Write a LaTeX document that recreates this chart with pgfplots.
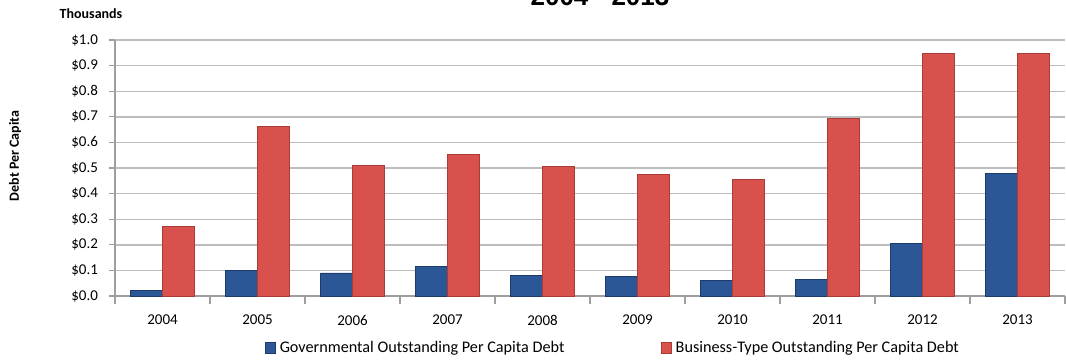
\documentclass[border=0pt]{standalone}
\usepackage{pgfplots}
\pgfplotsset{compat=1.18}
\usepackage{fontspec}
\setmainfont{Carlito}
\newfontfamily\titlefont{Liberation Sans}
\definecolor{blueM}{HTML}{2C5796}
\definecolor{blueE}{HTML}{1C3B6C}
\definecolor{redM}{HTML}{D9514D}
\definecolor{redE}{HTML}{A93C39}
\definecolor{gridc}{HTML}{BDBDBD}
\definecolor{axisc}{HTML}{9E9E9E}
\pgfplotstableread{
x gov bus
0 0.020 0.270
1 0.100 0.662
2 0.090 0.510
3 0.117 0.552
4 0.082 0.505
5 0.075 0.476
6 0.060 0.456
7 0.066 0.692
8 0.207 0.948
9 0.478 0.948
}\debt
\begin{document}
\begin{tikzpicture}
\useasboundingbox (0,0) rectangle (533pt,180pt);
\begin{axis}[
  scale only axis, width=475pt, height=128pt,
  at={(57.5pt,32pt)}, anchor=south west,
  ybar=0pt, bar width=16pt,
  xmin=-0.5, xmax=9.5, ymin=0, ymax=1.0,
  xtick=data,
  xticklabels={2004,2005,2006,2007,2008,2009,2010,2011,2012,2013},
  minor xtick={-0.5,0.5,...,9.5},
  ytick={0,0.1,...,1.0},
  yticklabel={\$\pgfmathprintnumber[fixed,fixed zerofill,precision=1]{\tick}},
  /pgf/number format/assume math mode=true,
  ymajorgrids, grid style={gridc, line width=0.7pt},
  axis x line*=bottom, axis y line*=left,
  axis line style={axisc, line width=0.6pt},
  major tick length=3pt, minor tick length=4pt,
  tick align=outside,
  xtick style={draw=none}, minor x tick style={draw=axisc, line width=0.6pt},
  ytick style={draw=axisc, line width=0.6pt},
  tick label style={font=\fontsize{7.5}{9}\selectfont, text=black},
  yticklabel style={xshift=-2pt},
  xticklabel style={yshift=-3pt},
  clip=false,
  legend style={at={(0.525,-0.203)}, anchor=center, draw=none, fill=none,
    legend columns=2, font=\fontsize{8.1}{9.5}\selectfont,
    /tikz/every even column/.append style={column sep=46pt},
    inner sep=0pt},
  legend image code/.code={\path[#1] (0pt,-2.6pt) rectangle (5.2pt,2.6pt);},
]
\addplot[draw=blueE, line width=0.4pt, fill=blueM] table[x=x,y=gov] {\debt};
\addplot[draw=redE, line width=0.4pt, fill=redM] table[x=x,y=bus] {\debt};
\legend{Governmental Outstanding Per Capita Debt,Business-Type Outstanding Per Capita Debt}
\end{axis}
\node[font=\bfseries\fontsize{7}{8}\selectfont] at (45.5pt,173pt) {Thousands};
\node[font=\bfseries\fontsize{7}{8}\selectfont, rotate=90] at (7.5pt,102pt) {Debt Per Capita};
\node[font=\titlefont\bfseries\fontsize{13}{15}\selectfont, anchor=base] at (300pt,177.5pt) {2004 - 2013};
\end{tikzpicture}
\end{document}
